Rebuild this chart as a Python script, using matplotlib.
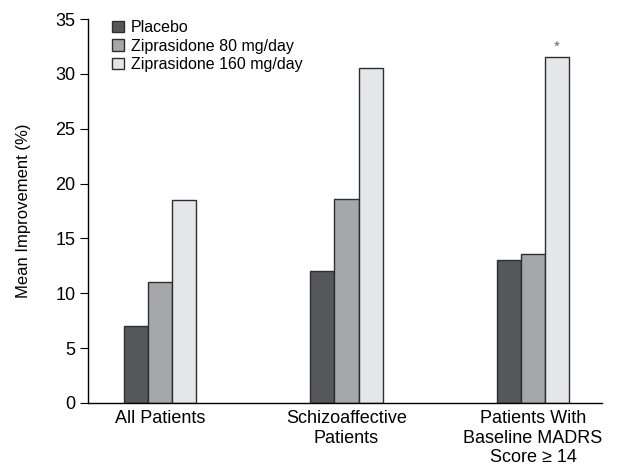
import numpy as np
import matplotlib.pyplot as plt

plt.rcParams['font.family'] = ['Liberation Sans', 'DejaVu Sans']

# data
groups = ['All Patients', 'Schizoaffective\nPatients', 'Patients With\nBaseline MADRS\nScore \u2265 14']
series = ['Placebo', 'Ziprasidone 80 mg/day', 'Ziprasidone 160 mg/day']
placebo = [7.0, 12.0, 13.0]
zip80 = [11.0, 18.6, 13.6]
zip160 = [18.5, 30.5, 31.5]
colors = ['#56575b', '#a6a7ab', '#e5e6e8']

fig = plt.figure(figsize=(6.19, 4.68), dpi=100)
ax = fig.add_axes([0.1422, 0.1389, 0.8303, 0.8205])

x = np.arange(len(groups))
w = 0.129
for i, (vals, name) in enumerate(zip([placebo, zip80, zip160], series)):
    ax.bar(x + (i - 1) * w, vals, w, color=colors[i], edgecolor='#2e2e2e',
           linewidth=1.0, label=name)

# significance marker
ax.text(x[2] + w, zip160[2] + 0.3, '*', ha='center', va='bottom',
        fontsize=11, color='#666666')

ax.set_xlim(-0.386, 2.37)
ax.set_ylim(0, 35)
ax.set_yticks(range(0, 36, 5))
ax.set_xticks(x)
ax.set_xticklabels(groups, fontsize=13)
ax.tick_params(axis='x', length=0, pad=5)
ax.tick_params(axis='y', labelsize=13, length=6, direction='out', pad=3)
ax.set_ylabel('Mean Improvement (%)', fontsize=12)
ax.yaxis.set_label_coords(-0.11, 0.5)
for s in ['top', 'right']:
    ax.spines[s].set_visible(False)
for s in ['left', 'bottom']:
    ax.spines[s].set_linewidth(1.0)

ax.legend(loc='upper left', bbox_to_anchor=(0.047, 0.997), frameon=False,
          fontsize=11.5, handlelength=0.75, handleheight=0.75,
          handletextpad=0.4, labelspacing=0.22, borderaxespad=0, borderpad=0)

fig.savefig('out.png', dpi=100)
